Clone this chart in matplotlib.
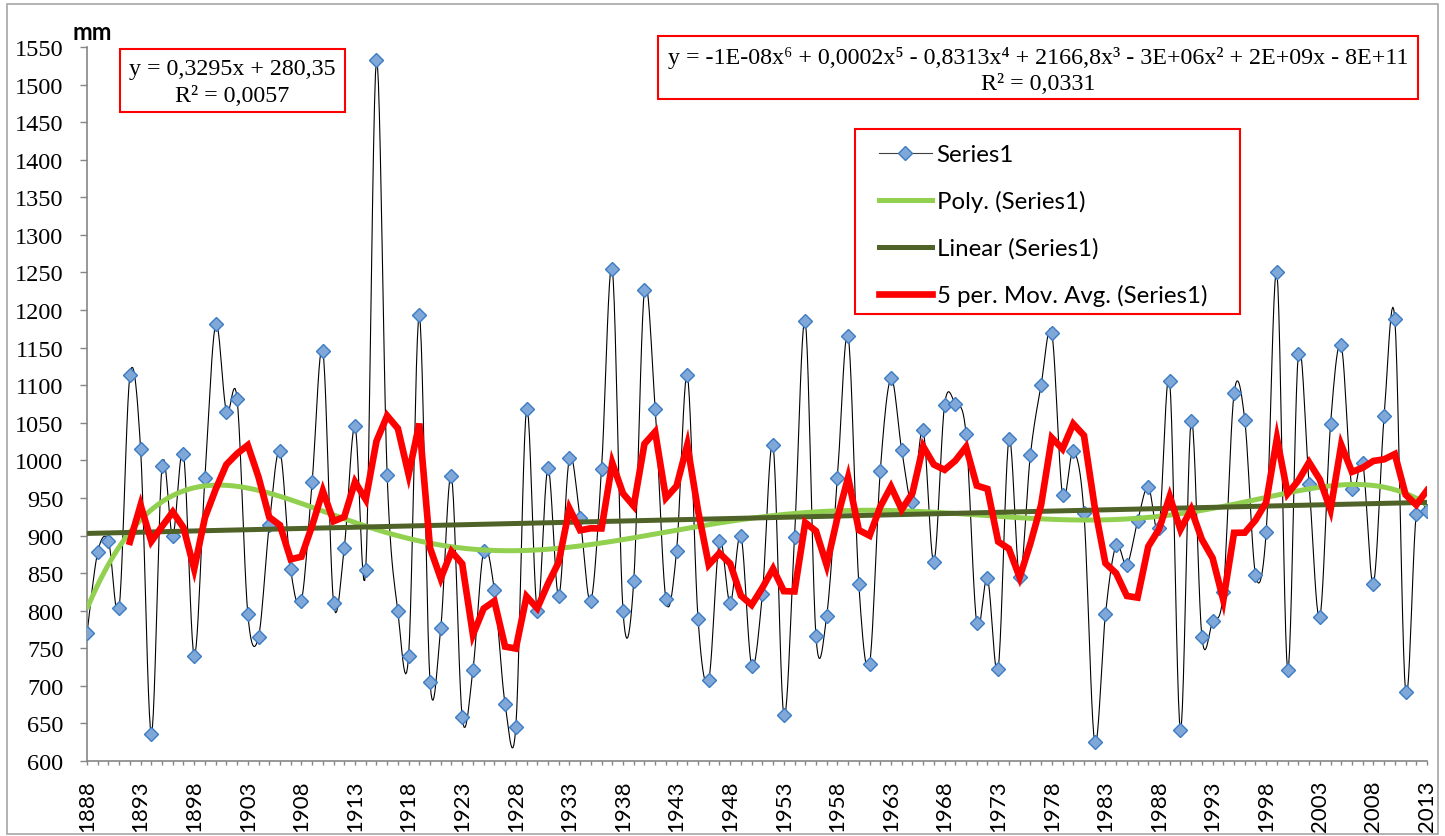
# Annual precipitation 1888-2013 with trendlines (Excel-style chart)
import matplotlib
matplotlib.use("Agg")
import matplotlib.pyplot as plt
from matplotlib.patches import Rectangle
import numpy as np
import pandas as pd

W, H = 1445, 837

years = np.arange(1888, 2014)
rain = [
    770, 878, 893, 804, 1113, 1015, 636, 993, 900, 1009,    # 1888-1897
    740, 977, 1181, 1065, 1082, 796, 765, 914, 1012, 855,   # 1898-1907
    813, 971, 1146, 810, 884, 1046, 854, 1533, 980, 799,    # 1908-1917
    740, 1193, 705, 777, 979, 658, 721, 879, 827, 676,      # 1918-1927
    645, 1068, 800, 990, 819, 1003, 923, 813, 989, 1255,    # 1928-1937
    800, 839, 1227, 1069, 815, 880, 1113, 789, 708, 893,    # 1938-1947
    810, 900, 727, 822, 1020, 661, 898, 1185, 766, 793,     # 1948-1957
    976, 1166, 835, 729, 986, 1109, 1014, 944, 1040, 865,   # 1958-1967
    1074, 1075, 1035, 783, 843, 723, 1028, 845, 1007, 1100, # 1968-1977
    1170, 954, 1012, 930, 625, 795, 887, 861, 919, 965,     # 1978-1987
    910, 1105, 641, 1053, 765, 786, 825, 1089, 1054, 848,   # 1988-1997
    905, 1250, 721, 1142, 969, 791, 1048, 1153, 962, 997,   # 1998-2007
    836, 1059, 1188, 692, 929, 932,                          # 2008-2013
]
yticks = list(range(600, 1551, 50))
xticks = list(range(1888, 2014, 5))

eq_linear = "y = 0,3295x + 280,35\nR\u00b2 = 0,0057"
eq_poly = ("y = -1E-08x\u2076 + 0,0002x\u2075 - 0,8313x\u2074 + 2166,8x\u00b3 - 3E+06x\u00b2 + 2E+09x - 8E+11"
           "\nR\u00b2 = 0,0331")

SERIF = ["Liberation Serif", "DejaVu Serif"]
SANS = ["Lato", "DejaVu Sans"]

# y tick labels are serif in the original, so make serif the default
plt.rcParams["font.family"] = SERIF
plt.rcParams["ytick.labelsize"] = 17.5
plt.rcParams["xtick.labelsize"] = 16


def fx(px):
    return px / W


def fy(py):
    return 1 - py / H


def smooth(x, y, n=12):
    # Excel-like smoothed line: Catmull-Rom style bezier between points
    p = np.column_stack([x, y]).astype(float)
    out = [p[0]]
    t = np.linspace(0, 1, n)[1:, None]
    for i in range(len(p) - 1):
        p0 = p[max(i - 1, 0)]
        p1, p2 = p[i], p[i + 1]
        p3 = p[min(i + 2, len(p) - 1)]
        c1 = p1 + (p2 - p0) / 6
        c2 = p2 - (p3 - p1) / 6
        seg = ((1 - t) ** 3) * p1 + 3 * ((1 - t) ** 2) * t * c1 + 3 * (1 - t) * t ** 2 * c2 + t ** 3 * p2
        out.extend(seg)
    out = np.array(out)
    return out[:, 0], out[:, 1]


fig = plt.figure(figsize=(W / 100, H / 100), dpi=100)
ax = fig.add_axes([fx(87), fy(762), fx(1340), 714 / H])

rain_arr = np.array(rain, dtype=float)
sx, sy = smooth(years, rain_arr)
ax.plot(sx, sy, color="black", lw=0.8, zorder=2)
ax.plot(years, rain_arr, ls="none", marker="D", ms=7.5, mfc="#7fa7d8", mec="#3c7cc4", mew=1, zorder=3)

# trendlines
poly = np.polynomial.Polynomial.fit(years, rain_arr, 6)
xf = np.linspace(1888, 2013, 400)
ax.plot(xf, poly(xf), color="#92d050", lw=3.6, zorder=4, solid_capstyle="butt")
lin = np.polyfit(years, rain_arr, 1)
ax.plot(xf, np.polyval(lin, xf), color="#4f6228", lw=3.6, zorder=4, solid_capstyle="butt")
ma = pd.Series(rain_arr).rolling(5).mean()
ax.plot(years, ma, color="#ff0000", lw=4.8, zorder=5, solid_joinstyle="miter")

ax.set_xlim(1888, 2013)
ax.set_ylim(600, 1550)
ax.set_yticks(yticks)
ax.set_yticklabels([str(v) for v in yticks])
ax.set_xticks(xticks)
ax.set_xticklabels([str(v) for v in xticks], rotation=90, fontfamily=SANS, fontsize=16)
ax.set_xticks(years, minor=True)
ax.tick_params(axis="y", length=5, width=1, color="#868686", pad=12)
ax.tick_params(axis="x", which="both", length=3, width=1, color="#868686", pad=10)
for s in ["top", "right"]:
    ax.spines[s].set_visible(False)
for s in ["left", "bottom"]:
    ax.spines[s].set_color("#868686")
    ax.spines[s].set_linewidth(1.2)

fig.text(fx(72), fy(32), "mm", fontsize=17, fontweight="bold", family=SANS,
         ha="left", va="center")

# equation boxes
fig.patches.append(Rectangle((fx(120), fy(113)), fx(225), 63 / H, transform=fig.transFigure,
                             fill=True, fc="white", ec="#ff0000", lw=1.5, zorder=6))
fig.text(fx(232), fy(83), eq_linear, fontsize=17.3, family=SERIF,
         ha="center", va="center", linespacing=1.35, zorder=7)
fig.patches.append(Rectangle((fx(658), fy(100)), fx(760), 63 / H, transform=fig.transFigure,
                             fill=True, fc="white", ec="#ff0000", lw=1.5, zorder=6))
fig.text(fx(1038), fy(71), eq_poly, fontsize=17.3, family=SERIF,
         ha="center", va="center", linespacing=1.35, zorder=7)

# legend
fig.patches.append(Rectangle((fx(855), fy(315)), fx(385), 185 / H, transform=fig.transFigure,
                             fill=True, fc="white", ec="#ff0000", lw=1.5, zorder=6))
h1, = ax.plot([], [], color="#404040", lw=0.8, marker="D", ms=7.5, mfc="#7fa7d8", mec="#3c7cc4")
h2, = ax.plot([], [], color="#92d050", lw=3.6)
h3, = ax.plot([], [], color="#4f6228", lw=3.6)
h4, = ax.plot([], [], color="#ff0000", lw=4.8)
leg = fig.legend([h1, h2, h3, h4],
                 ["Series1", "Poly. (Series1)", "Linear (Series1)", "5 per. Mov. Avg. (Series1)"],
                 loc="upper left", bbox_to_anchor=(fx(879), fy(145)), frameon=False,
                 prop={"family": SANS, "size": 17.3}, borderpad=0, borderaxespad=0,
                 handlelength=2.2, handletextpad=0.2, labelspacing=1.05)
leg.set_zorder(8)

# chart area border
fig.patches.append(Rectangle((fx(7), fy(835)), fx(1431), 830 / H, transform=fig.transFigure,
                             fill=False, ec="#a6a6a6", lw=1.2, zorder=1))

fig.savefig("out.png", dpi=100)
